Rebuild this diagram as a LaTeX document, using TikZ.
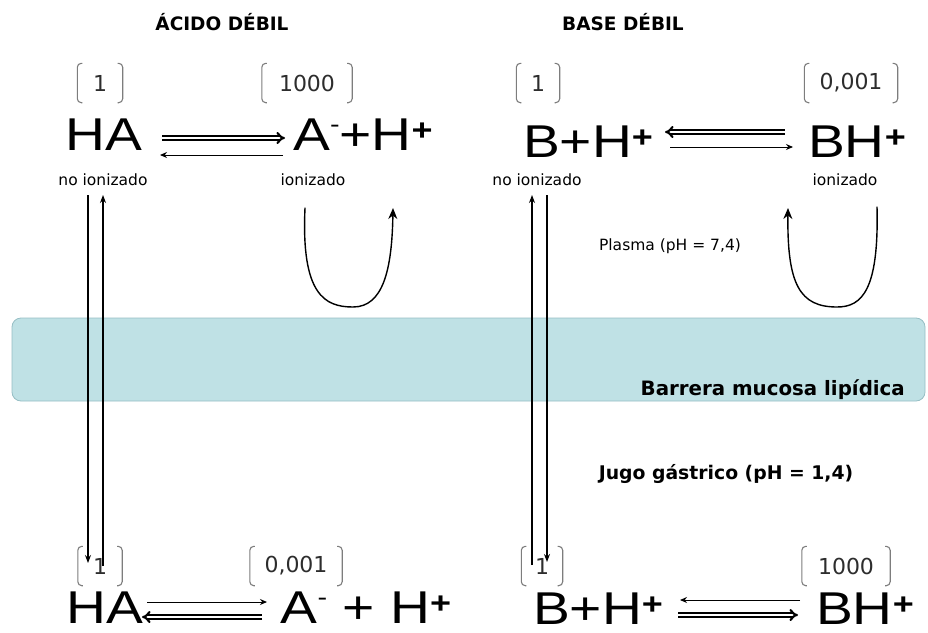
\documentclass[tikz,border=0pt]{standalone}
\usepackage{fontspec}
\setmainfont{DejaVu Sans}
\newfontfamily\bigf{Liberation Sans}[FakeStretch=1.2]
\usetikzlibrary{arrows.meta}
\definecolor{barrierfill}{RGB}{191,225,229}
\definecolor{barrierline}{RGB}{150,190,196}
\definecolor{brk}{RGB}{125,125,125}
\definecolor{numc}{RGB}{45,45,45}
\newcommand\myplus{\raisebox{10pt}{\fontsize{30}{30}\selectfont\bfseries +}}
\newcommand\myminus{\raisebox{18pt}{\fontsize{24}{24}\selectfont -}}
\begin{document}
\begin{tikzpicture}[x=1pt,y=-1pt,
  formula/.style={font=\bigf\fontsize{46}{50}\selectfont, inner sep=0pt, anchor=base},
  conc/.style={font=\fontsize{22}{24}\selectfont, text=numc, inner sep=0pt, minimum height=39pt, anchor=center},
  lbl/.style={font=\fontsize{15.5}{18}\selectfont, inner sep=0pt, anchor=center},
  ttl/.style={font=\bfseries\fontsize{18.5}{20}\selectfont, inner sep=0pt, anchor=base},
  fwd/.style={line width=2.1pt, double distance=1.7pt, -{Implies}},
  back/.style={line width=1pt, -{Stealth[length=7pt,width=6pt]}},
  vline/.style={line width=1.1pt, -{Stealth[length=8pt,width=6pt]}},
  curl/.style={line width=1.4pt, line cap=round, -{Stealth[length=11pt,width=9pt]}},
  bracket/.style={draw=brk, line width=1.1pt, rounded corners=4pt}]
\useasboundingbox (0,0) rectangle (928,632);

% barrier
\node[draw=barrierline, fill=barrierfill, rounded corners=9pt, line width=0.8pt,
      minimum width=913pt, minimum height=83pt, inner sep=0pt] (barrier) at (468.5,359.5) {};
\node[font=\bfseries\fontsize{19.8}{21}\selectfont, inner sep=0pt, anchor=base east] (barlbl) at (905,395) {Barrera mucosa lipídica};

% titles
\node[ttl] (tA) at (222,30) {ÁCIDO DÉBIL};
\node[ttl] (tB) at (623,30) {BASE DÉBIL};

% formulas top
\node[formula] (HAt) at (104,150) {HA};
\node[formula] (AHt) at (363,150) {A\myminus+H\myplus};
\node[formula] (BHt) at (588,157) {B+H\myplus};
\node[formula] (BHpt) at (857,157) {BH\myplus};

% formulas bottom
\node[formula] (HAb) at (104.5,623) {HA};
\node[formula] (AHb) at (366,623) {A\myminus\ + H\myplus};
\node[formula] (BHb) at (598,624) {B+H\myplus};
\node[formula] (BHpb) at (865,624) {BH\myplus};

% concentrations
\node[conc, minimum width=45pt] (cTL1) at (100,83) {1};
\node[conc, minimum width=90pt] (cTL2) at (307,83) {1000};
\node[conc, minimum width=43pt] (cTR1) at (538,83) {1};
\node[conc, minimum width=93pt] (cTR2) at (851,83) {0,001};
\node[conc, minimum width=44pt] (cBL1) at (100,566) {1};
\node[conc, minimum width=92pt] (cBL2) at (296,566) {0,001};
\node[conc, minimum width=41pt] (cBR1) at (542,566) {1};
\node[conc, minimum width=88pt] (cBR2) at (846,566) {1000};
\foreach \n in {cTL1,cTL2,cTR1,cTR2,cBL1,cBL2,cBR1,cBR2}{
  \draw[bracket] ([xshift=5pt]\n.north west) -- (\n.north west) -- (\n.south west) -- ([xshift=5pt]\n.south west);
  \draw[bracket] ([xshift=-5pt]\n.north east) -- (\n.north east) -- (\n.south east) -- ([xshift=-5pt]\n.south east);
}

% labels
\node[lbl] (niL) at (103,180) {no ionizado};
\node[lbl] (iL) at (313,180) {ionizado};
\node[lbl] (niR) at (537,180) {no ionizado};
\node[lbl] (iR) at (845,180) {ionizado};
\node[font=\fontsize{15.5}{18}\selectfont, inner sep=0pt, anchor=base] (plasma) at (670,250) {Plasma (pH = 7,4)};
\node[font=\bfseries\fontsize{18.8}{20}\selectfont, inner sep=0pt, anchor=base] (jugo) at (726,479) {Jugo gástrico (pH = 1,4)};

% reaction arrow end points
\coordinate (tl1s) at (162,138); \coordinate (tl1e) at (285,138);
\coordinate (tl2s) at (283,155); \coordinate (tl2e) at (160,155);
\coordinate (tr1s) at (785,132); \coordinate (tr1e) at (665,132);
\coordinate (tr2s) at (670,147); \coordinate (tr2e) at (793,147);
\coordinate (bl1s) at (147,602); \coordinate (bl1e) at (267,602);
\coordinate (bl2s) at (262,617); \coordinate (bl2e) at (142,617);
\coordinate (br1s) at (800,600); \coordinate (br1e) at (680,600);
\coordinate (br2s) at (678,615); \coordinate (br2e) at (798,615);

\draw[fwd] (tl1s) -- (tl1e);
\draw[back] (tl2s) -- (tl2e);
\draw[fwd] (tr1s) -- (tr1e);
\draw[back] (tr2s) -- (tr2e);
\draw[back] (bl1s) -- (bl1e);
\draw[fwd] (bl2s) -- (bl2e);
\draw[back] (br1s) -- (br1e);
\draw[fwd] (br2s) -- (br2e);

% vertical transport arrows
\coordinate (vL1t) at (88,195);  \coordinate (vL1b) at (88,563);
\coordinate (vL2b) at (103,566); \coordinate (vL2t) at (103,195);
\coordinate (vR1b) at (532,565); \coordinate (vR1t) at (532,195);
\coordinate (vR2t) at (547,195); \coordinate (vR2b) at (547,562);
\draw[vline] (vL1t) -- (vL1b);
\draw[vline] (vL2b) -- (vL2t);
\draw[vline] (vR1b) -- (vR1t);
\draw[vline] (vR2t) -- (vR2b);

% U-shaped arrows
\coordinate (uLs) at (305,208); \coordinate (uLm) at (353,307); \coordinate (uLe) at (393,208);
\coordinate (uRs) at (877,207); \coordinate (uRm) at (837,307); \coordinate (uRe) at (788,208);
\draw[curl] (uLs) .. controls (301,295) and (325,307) .. (uLm) .. controls (383,307) and (392,270) .. (uLe);
\draw[curl] (uRs) .. controls (879,290) and (862,307) .. (uRm) .. controls (800,307) and (787,285) .. (uRe);
\end{tikzpicture}
\end{document}
